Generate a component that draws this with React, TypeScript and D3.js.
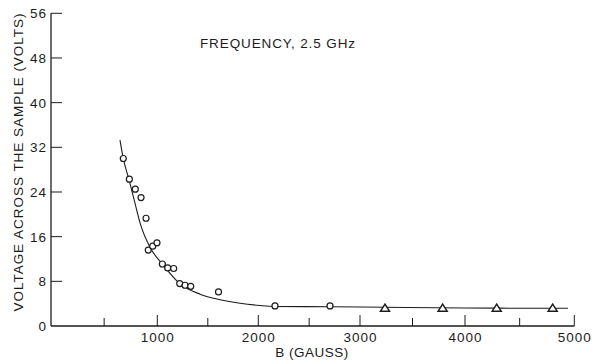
import React from 'react';
import * as d3 from 'd3';

// ---- data ----
const xMajorTicks = [1000, 2000, 3000, 4000, 5000];
const xMinorTicks = [500, 1500, 2500, 3500, 4500];
const yTicks = [0, 8, 16, 24, 32, 40, 48, 56];

const circleB = [680, 737, 793, 847, 894, 915, 957, 997, 1050, 1103, 1162, 1222, 1275, 1331, 1606, 2164, 2705];
const circleV = [30.0, 26.3, 24.5, 23.0, 19.3, 13.6, 14.3, 14.9, 11.1, 10.4, 10.3, 7.6, 7.3, 7.1, 6.1, 3.6, 3.6];

const triangleB = [3238, 3787, 4290, 4802];
const triangleV = [3.2, 3.2, 3.2, 3.2];

const curveB = [649, 680, 737, 790, 842, 931, 1050, 1222, 1423, 1621, 1819, 2017, 2164, 2705, 3238, 4000, 4942];
const curveV = [33.3, 30.0, 26.0, 22.0, 18.2, 14.1, 11.1, 7.6, 5.7, 4.7, 4.06, 3.67, 3.5, 3.45, 3.35, 3.22, 3.17];

const titleText = 'FREQUENCY, 2.5 GHz';
const xTitle = 'B (GAUSS)';
const yTitle = 'VOLTAGE ACROSS THE SAMPLE (VOLTS)';

// the scanned axis is slightly non-uniform: piecewise scale through the printed ticks
const xDomain = [0, 1000, 2000, 3000, 4000, 5000];
const xRange = [51, 157.3, 258.3, 360, 465, 574.3];

const W = 600;
const H = 362;
const FONT = '"Liberation Sans", Arial, Helvetica, sans-serif';
const INK = '#1c1c1c';

export default function App() {
  const x = d3.scaleLinear().domain(xDomain).range(xRange);
  const y = d3.scaleLinear().domain([0, 56]).range([326, 13.3]);

  const curvePts: [number, number][] = curveB.map((b, i) => [b, curveV[i]]);
  const line = d3
    .line<[number, number]>()
    .x((d) => x(d[0]))
    .y((d) => y(d[1]))
    .curve(d3.curveMonotoneX);

  const x0 = x(0);
  const y0 = y(0);

  return (
    <svg
      width={W}
      height={H}
      viewBox={`0 0 ${W} ${H}`}
      style={{ position: 'absolute', left: 0, top: 0, background: '#fff' }}
    >
      <rect x={0} y={0} width={W} height={H} fill="#fff" />

      {/* axes */}
      <line x1={x0} y1={y(56)} x2={x0} y2={y0} stroke={INK} strokeWidth={1.3} />
      <line x1={x0} y1={y0} x2={x(5000)} y2={y0} stroke={INK} strokeWidth={1.3} />

      {/* y ticks */}
      {yTicks.map((t) => (
        <g key={`yt${t}`}>
          {t > 0 && (
            <line x1={x0} x2={x0 + 11} y1={y(t)} y2={y(t)} stroke={INK} strokeWidth={1} />
          )}
          <text
            x={47}
            y={y(t)}
            dy="0.36em"
            textAnchor="end"
            fontFamily={FONT}
            fontSize={13.5}
            letterSpacing={1}
            fill={INK}
          >
            {t}
          </text>
        </g>
      ))}

      {/* x ticks */}
      {xMajorTicks.map((t) => (
        <g key={`xt${t}`}>
          <line x1={x(t)} x2={x(t)} y1={y0} y2={y0 - 11} stroke={INK} strokeWidth={1} />
          <text
            x={x(t) + 0.5}
            y={341.7}
            textAnchor="middle"
            fontFamily={FONT}
            fontSize={13.5}
            letterSpacing={1}
            fill={INK}
          >
            {t}
          </text>
        </g>
      ))}
      {xMinorTicks.map((t) => (
        <line key={`xm${t}`} x1={x(t)} x2={x(t)} y1={y0} y2={y0 - 8} stroke={INK} strokeWidth={1} />
      ))}

      {/* axis titles */}
      <text
        x={311.7}
        y={356.7}
        textAnchor="middle"
        fontFamily={FONT}
        fontSize={13.5}
        textLength={73}
        lengthAdjust="spacing"
        fill={INK}
      >
        {xTitle}
      </text>
      <text
        transform={`translate(22.5,162.5) rotate(-90)`}
        textAnchor="middle"
        fontFamily={FONT}
        fontSize={13.5}
        textLength={298}
        lengthAdjust="spacing"
        fill={INK}
      >
        {yTitle}
      </text>

      {/* annotation */}
      <text
        x={277.5}
        y={48.3}
        textAnchor="middle"
        fontFamily={FONT}
        fontSize={13.5}
        textLength={155}
        lengthAdjust="spacing"
        fill={INK}
      >
        {titleText}
      </text>

      {/* fitted curve */}
      <path d={line(curvePts) || ''} fill="none" stroke={INK} strokeWidth={1.1} />

      {/* circle data */}
      {circleB.map((b, i) => (
        <circle
          key={`c${i}`}
          cx={x(b)}
          cy={y(circleV[i])}
          r={3}
          fill="#fff"
          stroke={INK}
          strokeWidth={1.2}
        />
      ))}

      {/* triangle data */}
      {triangleB.map((b, i) => (
        <path
          key={`t${i}`}
          transform={`translate(${x(b)},${y(triangleV[i])})`}
          d="M0,-4L4.5,3L-4.5,3Z"
          fill="#fff"
          stroke={INK}
          strokeWidth={1.5}
          strokeLinejoin="miter"
        />
      ))}
    </svg>
  );
}
